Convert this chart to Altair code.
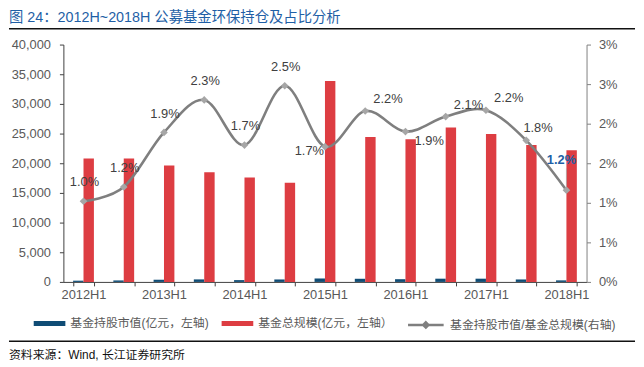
import json
import altair as alt
import pandas as pd

# ---------------- data ----------------
PERIODS = ["2012H1", "2012H2", "2013H1", "2013H2", "2014H1", "2014H2", "2015H1",
           "2015H2", "2016H1", "2016H2", "2017H1", "2017H2", "2018H1"]
HOLDINGS = [210, 250, 370, 425, 305, 415, 580, 530, 460, 545, 545, 415, 260]
TOTAL = [20800, 20800, 19630, 18470, 17580, 16700, 33870, 24420, 24030, 26030,
         24920, 23080, 22200]
RATIO = [0.0102, 0.0120, 0.0189, 0.0230, 0.0173, 0.0248, 0.0171, 0.0216, 0.0190,
         0.0209, 0.0217, 0.0179, 0.0116]
SERIES = ["基金持股市值(亿元，左轴)", "基金总规模(亿元，左轴）", "基金持股市值/基金总规模(右轴)"]
LEFT_TICKS = [0, 5000, 10000, 15000, 20000, 25000, 30000, 35000, 40000]
RIGHT_TICKS = [0, 0.005, 0.01, 0.015, 0.02, 0.025, 0.03]
RIGHT_TICK_LABELS = ["0%", "1%", "1%", "2%", "2%", "3%", "3%"]
X_TICK_LABELS = ["2012H1", "2013H1", "2014H1", "2015H1", "2016H1", "2017H1", "2018H1"]
TITLE = "图 24：2012H~2018H 公募基金环保持仓及占比分析"
SOURCE = "资料来源：Wind, 长江证券研究所"

# ---------------- styling ----------------
BLUE = "#0F4C75"
RED = "#DD3D42"
LINE_GRAY = "#7F7F7F"
MARK_GRAY = "#A6A6A6"
TXT = "#595959"
FONT = "Liberation Sans, Noto Sans CJK SC"
W, H = 529, 240

# label placement: periods -> (align, dx, dy)
LABEL_PLACEMENT = {
    "above": (["2012H1", "2012H2", "2013H1", "2013H2", "2014H1", "2014H2"], "center", 1, -19),
    "left": (["2015H1"], "right", -1, 4),
    "upright": (["2015H2", "2016H2", "2017H1"], "center", 23, -12),
    "right": (["2016H1"], "center", 24, 10),
    "upright2": (["2017H2"], "center", 12, -12),
}

bar_df = pd.DataFrame({
    "period": PERIODS * 2,
    "series": [SERIES[0]] * len(PERIODS) + [SERIES[1]] * len(PERIODS),
    "value": HOLDINGS + TOTAL,
})
line_df = pd.DataFrame({"period": PERIODS, "ratio": RATIO, "name": [SERIES[2]] * len(PERIODS)})

x_enc = alt.X(
    "period:N", sort=PERIODS, title=None,
    scale=alt.Scale(paddingInner=0.483, paddingOuter=0.2415),
    axis=alt.Axis(
        labelExpr="indexof(" + json.dumps(X_TICK_LABELS) + ", datum.value) >= 0 ? datum.value : ''",
        labelAngle=0, tickBand="extent", tickSize=4, labelPadding=3,
        domainColor="#404040", tickColor="#404040", labelColor=TXT,
        labelFont=FONT, labelFontSize=13,
    ),
)

bars = alt.Chart(bar_df).mark_bar().encode(
    x=x_enc,
    xOffset=alt.XOffset("series:N", sort=SERIES[:2],
                        scale=alt.Scale(paddingInner=0, paddingOuter=0)),
    y=alt.Y("value:Q", title=None, scale=alt.Scale(domain=[0, 40000], nice=False),
            axis=alt.Axis(values=LEFT_TICKS, tickCount=20, format=",.0f", grid=False,
                          tickSize=4, labelPadding=9, domainColor="#404040",
                          tickColor="#404040", labelColor=TXT, labelFont=FONT,
                          labelFontSize=13, labelOverlap=False)),
    color=alt.Color("series:N", sort=SERIES[:2],
                    scale=alt.Scale(domain=SERIES[:2], range=[BLUE, RED]),
                    legend=alt.Legend(
                        title=None, orient="none", legendX=-30, legendY=266,
                        direction="horizontal", symbolType="M-1,-0.16H1V0.16H-1Z",
                        symbolSize=1024, symbolStrokeWidth=0, labelOffset=5,
                        columnPadding=13, labelFont=FONT, labelFontSize=12,
                        labelColor=TXT, labelLimit=400)),
)

y_right = alt.Y("ratio:Q", title=None, scale=alt.Scale(domain=[0, 0.03], nice=False),
                axis=alt.Axis(orient="right", values=RIGHT_TICKS, tickCount=20, grid=False,
                              labelExpr=json.dumps(RIGHT_TICK_LABELS) + "[round(datum.value*200)]",
                              tickSize=4, labelPadding=8, domainColor=LINE_GRAY,
                              tickColor=LINE_GRAY, labelColor=TXT, labelFont=FONT,
                              labelFontSize=13, labelOverlap=False))
x_line = alt.X("period:N", sort=PERIODS)

line = alt.Chart(line_df).mark_line(interpolate="cardinal", strokeWidth=2.6).encode(
    x=x_line,
    y=y_right,
    stroke=alt.Stroke("name:N", scale=alt.Scale(domain=[SERIES[2]], range=[LINE_GRAY]),
                      legend=alt.Legend(
                          title=None, orient="none", legendX=347, legendY=264,
                          symbolType="M-1,0H1M0,-0.15L0.15,0L0,0.15L-0.15,0Z",
                          symbolSize=1296, symbolStrokeWidth=2.5,
                          symbolFillColor=MARK_GRAY, labelOffset=5,
                          labelFont=FONT, labelFontSize=12, labelColor=TXT,
                          labelLimit=400)),
)

points = alt.Chart(line_df).mark_point(shape="diamond", filled=True, size=60,
                                       color=MARK_GRAY, opacity=1).encode(
    x=x_line,
    y=y_right,
)

label_layers = []
for _, (plist, align, dx, dy) in LABEL_PLACEMENT.items():
    label_layers.append(
        alt.Chart(line_df).transform_filter(
            alt.FieldOneOfPredicate(field="period", oneOf=plist)
        ).mark_text(align=align, baseline="middle", dx=dx, dy=dy, font=FONT,
                    fontSize=13, color="#404040").encode(
            x=x_line,
            y=y_right,
            text=alt.Text("ratio:Q", format=".1%"),
        )
    )

last = ["2018H1"]
last_label = alt.Chart(line_df).transform_filter(
    alt.FieldOneOfPredicate(field="period", oneOf=last)
).mark_text(align="center", baseline="middle", dx=-5, dy=-30, font=FONT,
            fontSize=13, fontWeight="bold", color="#1F5FA6").encode(
    x=x_line,
    y=y_right,
    text=alt.Text("ratio:Q", format=".1%"),
)
leader = alt.Chart(line_df).transform_filter(
    alt.FieldOneOfPredicate(field="period", oneOf=last)
).mark_rule(color="#B0A0A0", strokeWidth=0.8, yOffset=-4, y2Offset=-22).encode(
    x=x_line,
    y=y_right,
    y2=alt.Y2("ratio"),
)

right_group = alt.layer(line, leader, points, *label_layers, last_label)

one = pd.DataFrame({"t": [TITLE]})
src = pd.DataFrame({"t": [SOURCE]})
title_text = alt.Chart(one).mark_text(align="left", baseline="middle", font=FONT,
                                      fontSize=14.5, color="#1F5FA6").encode(
    x=alt.value(-55), y=alt.value(-27), text="t:N")
title_rule = alt.Chart(one).mark_rule(color="#111111", strokeWidth=1.6).encode(
    x=alt.value(-55), x2=alt.value(578), y=alt.value(-16))
foot_rule = alt.Chart(src).mark_rule(color="#111111", strokeWidth=1.4).encode(
    x=alt.value(-55), x2=alt.value(578), y=alt.value(300))
foot_text = alt.Chart(src).mark_text(align="left", baseline="middle", font=FONT,
                                     fontSize=12, color="#111111").encode(
    x=alt.value(-55), y=alt.value(314), text="t:N")

chart = alt.layer(
    bars, right_group, title_text, title_rule, foot_rule, foot_text
).resolve_scale(y="independent").properties(
    width=W, height=H, padding=0
).configure_view(stroke=None)

chart.save("out.html", embed_options={"renderer": "svg", "actions": False})
